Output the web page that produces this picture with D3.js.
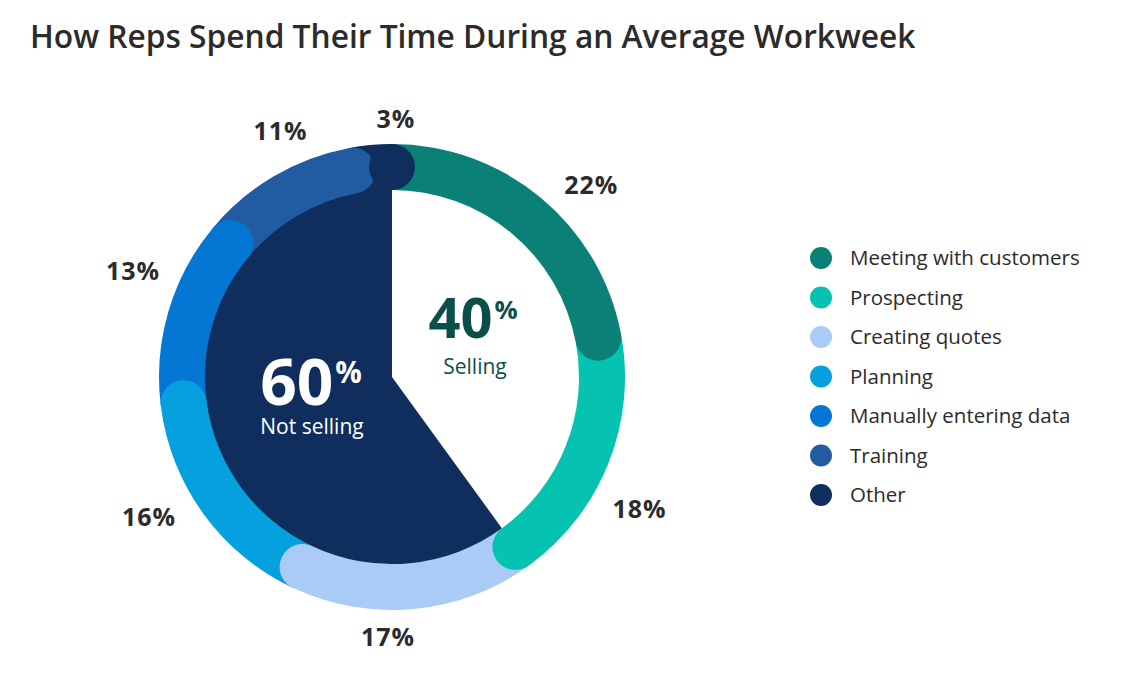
<!DOCTYPE html>
<html>
<head>
<meta charset="utf-8">
<script src="https://cdn.jsdelivr.net/npm/d3@7"></script>
<style>
  body { margin: 0; background: #fff; }
  svg { display: block; font-family: "Open Sans", "Noto Sans", sans-serif; }
</style>
</head>
<body>
<svg id="chart" width="1148" height="691"></svg>
<script>
// chart data
var title = "How Reps Spend Their Time During an Average Workweek";
var categories = ["Meeting with customers", "Prospecting", "Creating quotes", "Planning",
                  "Manually entering data", "Training", "Other"];
var shares = [22, 18, 17, 16, 13, 11, 3];
var colors = ["#0b8077", "#06c2b0", "#a9cbf5", "#05a1de", "#0476d3", "#215ca3", "#0f2d5d"];
var splitLabels = ["Selling", "Not selling"];
var splitShares = [40, 60];
var splitColors = ["#ffffff", "#0f2d5d"];
var splitText = ["#0b4f4a", "#ffffff"];

var svg = d3.select("#chart");
var cx = 392, cy = 377;
var outerR = 233, innerR = 187;
var band = outerR - innerR, midR = (outerR + innerR) / 2;

svg.append("text")
    .attr("x", 30).attr("y", 48)
    .attr("font-size", 31.7).attr("font-weight", 600)
    .attr("fill", "#2b2b2b")
    .text(title);

var g = svg.append("g").attr("transform", "translate(" + cx + "," + cy + ")");

// inner pie: selling vs not selling
var splitPie = d3.pie().sort(null)(splitShares);
var innerArc = d3.arc().innerRadius(0).outerRadius(innerR + 2);
g.selectAll("path.split")
    .data(splitPie)
    .enter().append("path")
    .attr("class", "split")
    .attr("d", innerArc)
    .attr("fill", function (d, i) { return splitColors[i]; });

// ring segments with a rounded end cap
var ringPie = d3.pie().sort(null)(shares);

function segmentPath(a0, a1) {
    var p = d3.path();
    var f0 = a0 - Math.PI / 2, f1 = a1 - Math.PI / 2;
    p.moveTo(outerR * Math.cos(f0), outerR * Math.sin(f0));
    p.arc(0, 0, outerR, f0, f1, false);
    p.arc(midR * Math.cos(f1), midR * Math.sin(f1), band / 2, f1, f1 + Math.PI, false);
    p.arc(0, 0, innerR, f1, f0, true);
    p.closePath();
    return p.toString();
}

// draw last to first so each cap lies over the following segment
var order = ringPie.slice().reverse();
g.selectAll("path.seg")
    .data(order)
    .enter().append("path")
    .attr("class", "seg")
    .attr("d", function (d) { return segmentPath(d.startAngle, d.endAngle); })
    .attr("fill", function (d) { return colors[d.index]; });

// the last segment's cap also lies over the first one
var last = ringPie[ringPie.length - 1];
var fl = last.endAngle - Math.PI / 2;
g.append("circle")
    .attr("cx", midR * Math.cos(fl)).attr("cy", midR * Math.sin(fl))
    .attr("r", band / 2)
    .attr("fill", colors[last.index]);

// percentage labels outside the ring
var capShift = (band / 2) / midR;
function labelPos(d) {
    var a = (d.startAngle + d.endAngle) / 2 + capShift;
    var s = Math.sin(a), c = Math.cos(a);
    var r = outerR + 14 + 31 * Math.abs(s) + 12 * Math.abs(c);
    return [r * s, -r * c];
}
g.selectAll("text.pct")
    .data(ringPie)
    .enter().append("text")
    .attr("class", "pct")
    .attr("x", function (d) { return labelPos(d)[0]; })
    .attr("y", function (d) { return labelPos(d)[1]; })
    .attr("text-anchor", "middle")
    .attr("dominant-baseline", "central")
    .attr("font-size", 25).attr("font-weight", 700)
    .attr("letter-spacing", 1)
    .attr("fill", "#2b2b2b")
    .text(function (d) { return d.data + "%"; });

// center labels
var centerPos = [[473, 338, 56, 475, 374], [311, 405, 64, 312, 434]];
splitLabels.forEach(function (lab, i) {
    var pos = centerPos[i];
    var t = svg.append("text")
        .attr("x", pos[0]).attr("y", pos[1])
        .attr("text-anchor", "middle")
        .attr("fill", splitText[i]);
    t.append("tspan").attr("font-size", pos[2]).attr("font-weight", 700).text(splitShares[i]);
    t.append("tspan").attr("font-size", pos[2] * 0.46).attr("font-weight", 700)
        .attr("dx", 2).attr("dy", -pos[2] * 0.34).text("%");
    svg.append("text")
        .attr("x", pos[3]).attr("y", pos[4])
        .attr("text-anchor", "middle")
        .attr("font-size", 21)
        .attr("fill", splitText[i])
        .text(lab);
});

// legend
var legendY = d3.scalePoint().domain(categories).range([258, 495]);
var legend = svg.append("g");
var item = legend.selectAll("g.item")
    .data(categories)
    .enter().append("g")
    .attr("class", "item")
    .attr("transform", function (d) { return "translate(821," + legendY(d) + ")"; });
item.append("circle").attr("r", 11)
    .attr("fill", function (d, i) { return colors[i]; });
item.append("text")
    .attr("x", 29).attr("dy", "0.35em")
    .attr("font-size", 20.5)
    .attr("fill", "#2b2b2b")
    .text(function (d) { return d; });
</script>
</body>
</html>
